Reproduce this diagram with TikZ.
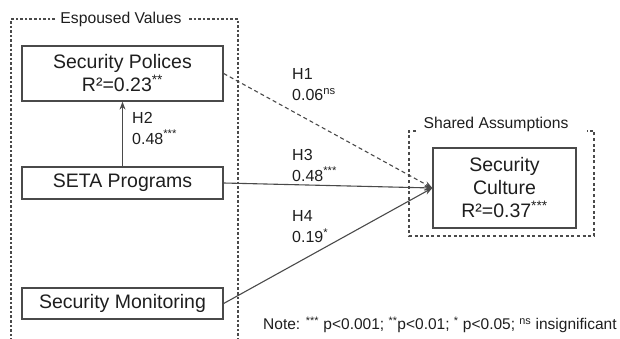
\documentclass[tikz,border=0pt]{standalone}
\usepackage{fontspec}
\setmainfont{Liberation Sans}
\usetikzlibrary{arrows.meta}
\definecolor{ink}{HTML}{1E1E1E}
\definecolor{edge}{HTML}{4A4A4A}
\newcommand{\sig}[1]{\textsuperscript{#1}}
\tikzset{
  construct/.style={draw=edge, line width=1.3pt, rectangle, inner sep=0pt,
    align=center, text=ink, font=\fontsize{19.5}{23}\selectfont},
  grouptitle/.style={text=ink, inner sep=0pt, font=\fontsize{15.7}{18}\selectfont},
  grouprule/.style={draw=edge, line width=1.1pt, dash pattern=on 2.6pt off 2pt},
  sharedrule/.style={draw=edge, line width=1.1pt, dash pattern=on 3pt off 2.6pt},
  pathlabel/.style={anchor=west, align=left, inner sep=0pt, text=ink,
    font=\fontsize{16}{21}\selectfont},
  effect/.style={draw=edge, line width=1.1pt, -{Stealth[length=8pt,width=6pt]}},
  weakeffect/.style={effect, dash pattern=on 4pt off 3pt}
}
\begin{document}
\begin{tikzpicture}[x=1pt, y=-1pt]
  \useasboundingbox (0,0) rectangle (620,339);

  % group frames
  \draw[grouprule] (55,19) -- (11,19) -- (11,339);
  \draw[grouprule] (189,19) -- (238,19) -- (238,339);
  \node[grouptitle] (espoused) at (121,19) {Espoused Values};

  \draw[sharedrule] (416,131) -- (409,131) -- (409,236) -- (594,236) -- (594,131) -- (587,131);
  \node[grouptitle] (shared) at (496,124) {Shared Assumptions};

  % constructs
  \node[construct, minimum width=201pt, minimum height=55pt] (sp) at (122.5,73.5)
    {Security Polices\\R²=0.23\sig{**}};
  \node[construct, minimum width=201pt, minimum height=32pt] (seta) at (122.5,183)
    {SETA Programs};
  \node[construct, minimum width=201pt, minimum height=31pt] (mon) at (122.5,303.5)
    {Security Monitoring};
  \node[construct, minimum width=143pt, minimum height=80pt] (cul) at (504.5,188)
    {Security\\Culture\\R²=0.37\sig{***}};

  % paths
  \draw[effect] (seta.north) -- (sp.south);
  \draw[weakeffect] (sp.east) -- (cul.west);
  \draw[effect] (seta.east) -- (cul.west);
  \draw[effect] (mon.east) -- (cul.west);

  % path coefficients
  \node[pathlabel] (h2) at (132,128) {H2\\0.48\sig{***}};
  \node[pathlabel] (h1) at (292,84.5) {H1\\0.06\sig{ns}};
  \node[pathlabel] (h3) at (292,165) {H3\\0.48\sig{***}};
  \node[pathlabel] (h4) at (292,227) {H4\\0.19\sig{*}};

  % significance legend
  \node[anchor=west, inner sep=0pt, text=ink, font=\fontsize{15.5}{18}\selectfont] (note) at (263,325)
    {Note: \sig{***} p<0.001; \sig{**}p<0.01; \sig{*} p<0.05; \sig{ns} insignificant};
\end{tikzpicture}
\end{document}
